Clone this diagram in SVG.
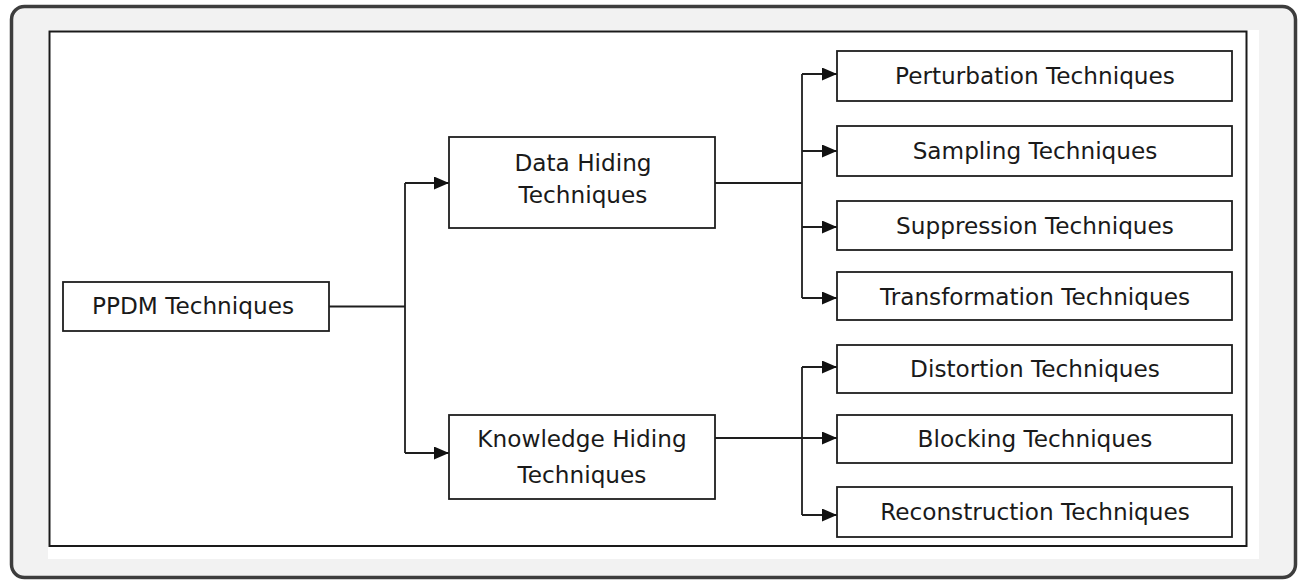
<svg xmlns="http://www.w3.org/2000/svg" width="1301" height="581" viewBox="0 0 1301 581">
<style>
.box{fill:#fff;stroke:#1e1e1e;stroke-width:1.8}
.t{font-family:"DejaVu Sans",Verdana,sans-serif;font-size:23.2px;fill:#1a1a1a;text-anchor:middle}
.c{fill:none;stroke:#1e1e1e;stroke-width:1.8}
</style>
<defs>
<marker id="ah" markerUnits="userSpaceOnUse" markerWidth="16" markerHeight="14" refX="15" refY="6.5" orient="auto">
<path d="M0,0 L15,6.5 L0,13 Z" fill="#111"/>
</marker>
</defs>
<rect x="11.5" y="6.5" width="1284" height="571" rx="13" fill="#f2f2f2" stroke="#3d3d3d" stroke-width="3.5"/>
<rect x="48" y="30" width="1211" height="529" fill="#fff"/>
<rect x="49.5" y="31.5" width="1197" height="514.5" fill="none" stroke="#1a1a1a" stroke-width="2"/>
<g id="connectors">
<path class="c" d="M329,306.5 H405"/>
<path class="c" d="M405,183 V453"/>
<path class="c" d="M405,183 H449" marker-end="url(#ah)"/>
<path class="c" d="M405,453 H449" marker-end="url(#ah)"/>
<path class="c" d="M715,183 H802"/>
<path class="c" d="M802,74 V298"/>
<path class="c" d="M802,74 H837" marker-end="url(#ah)"/>
<path class="c" d="M802,151 H837" marker-end="url(#ah)"/>
<path class="c" d="M802,227 H837" marker-end="url(#ah)"/>
<path class="c" d="M802,298 H837" marker-end="url(#ah)"/>
<path class="c" d="M715,438 H802"/>
<path class="c" d="M802,367 V515"/>
<path class="c" d="M802,367 H837" marker-end="url(#ah)"/>
<path class="c" d="M802,438 H837" marker-end="url(#ah)"/>
<path class="c" d="M802,515 H837" marker-end="url(#ah)"/>
</g>
<g id="ppdm"><rect class="box" x="63" y="282" width="266" height="49"/><text class="t" x="193" y="313.5">PPDM Techniques</text></g>
<g id="data-hiding"><rect class="box" x="449" y="137" width="266" height="91"/><text class="t" x="583" y="171">Data Hiding</text><text class="t" x="583" y="203">Techniques</text></g>
<g id="knowledge-hiding"><rect class="box" x="449" y="415" width="266" height="84"/><text class="t" x="582" y="447">Knowledge Hiding</text><text class="t" x="582" y="483">Techniques</text></g>
<g id="perturbation"><rect class="box" x="837" y="51" width="395" height="50"/><text class="t" x="1035" y="84">Perturbation Techniques</text></g>
<g id="sampling"><rect class="box" x="837" y="126" width="395" height="50"/><text class="t" x="1035" y="159">Sampling Techniques</text></g>
<g id="suppression"><rect class="box" x="837" y="201" width="395" height="49"/><text class="t" x="1035" y="233.5">Suppression Techniques</text></g>
<g id="transformation"><rect class="box" x="837" y="272" width="395" height="48"/><text class="t" x="1035" y="304.5">Transformation Techniques</text></g>
<g id="distortion"><rect class="box" x="837" y="345" width="395" height="48"/><text class="t" x="1035" y="377">Distortion Techniques</text></g>
<g id="blocking"><rect class="box" x="837" y="415" width="395" height="48"/><text class="t" x="1035" y="447">Blocking Techniques</text></g>
<g id="reconstruction"><rect class="box" x="837" y="487" width="395" height="50"/><text class="t" x="1035" y="520">Reconstruction Techniques</text></g>
</svg>
